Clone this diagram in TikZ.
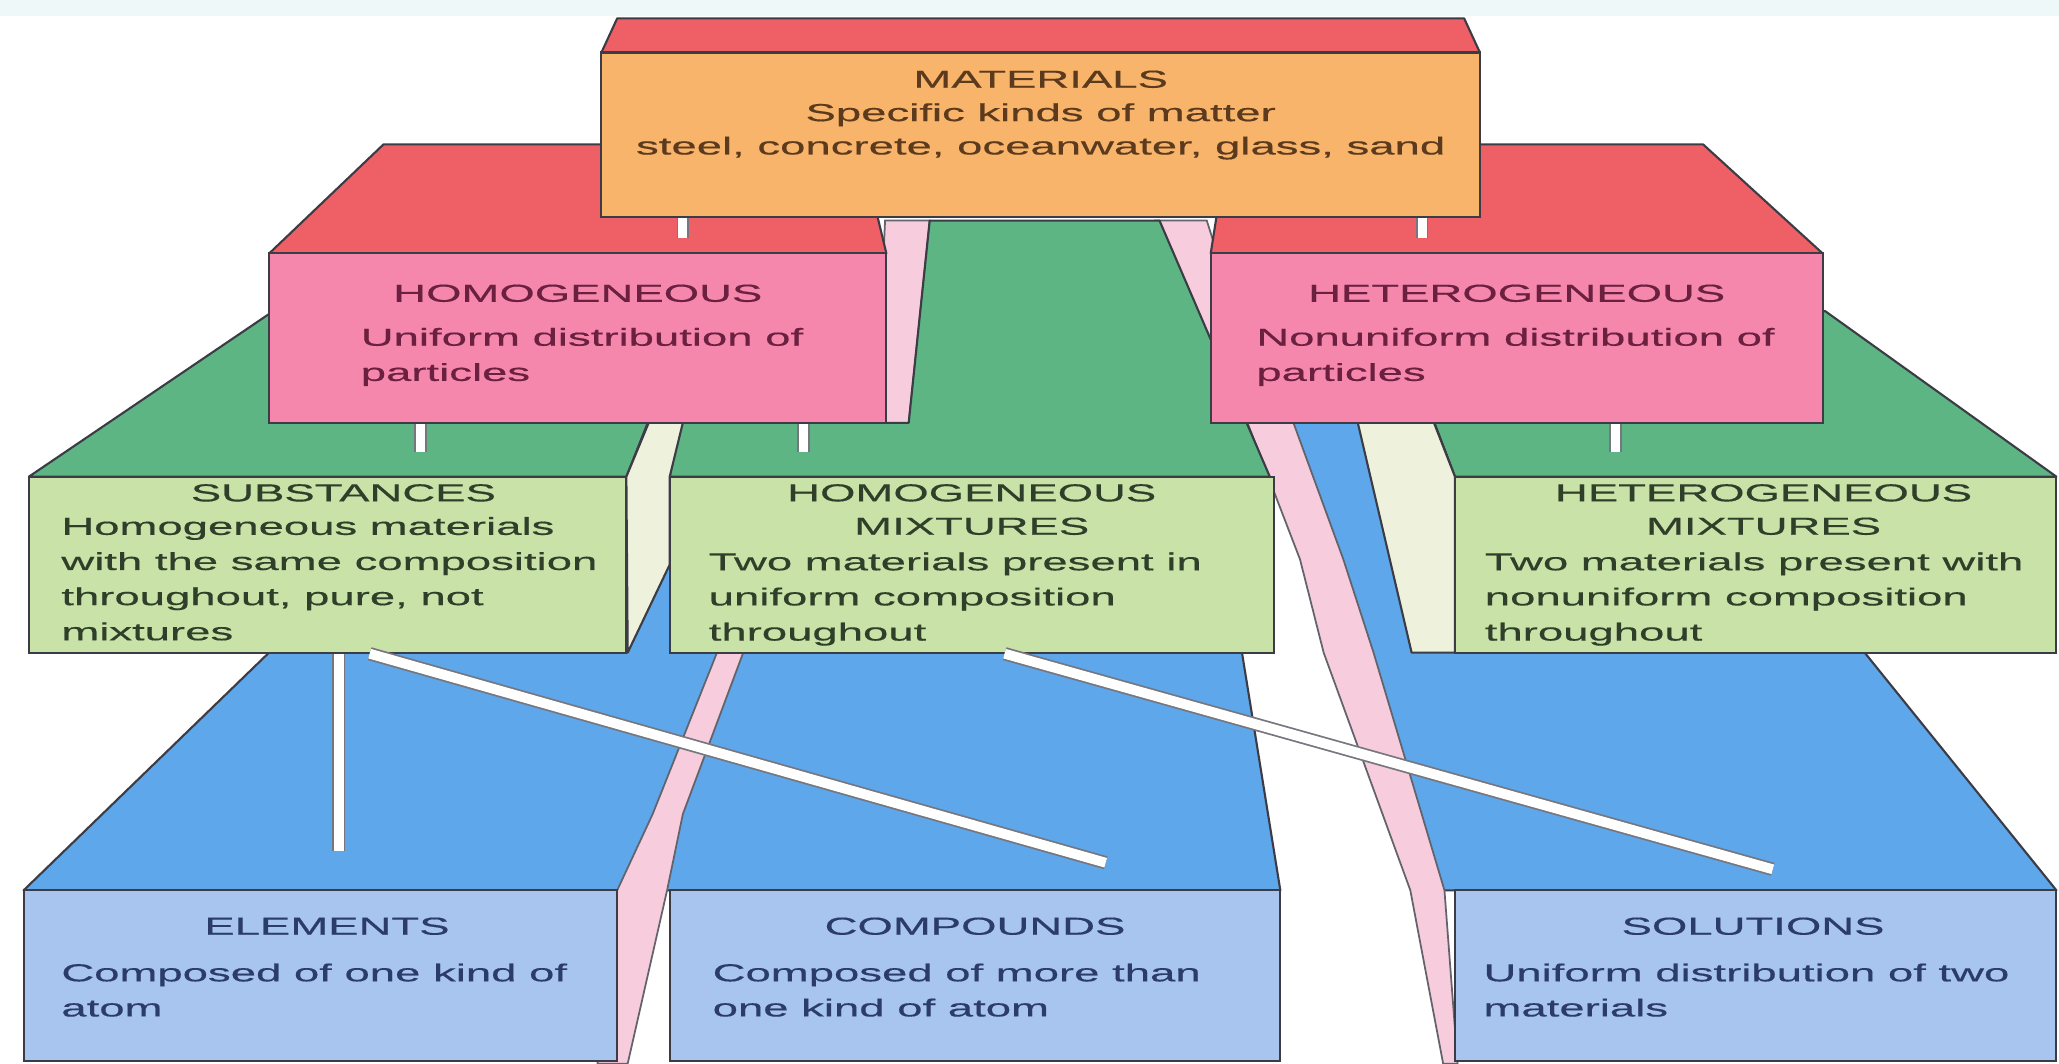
\documentclass[tikz,border=0pt]{standalone}
\usepackage{fontspec}
\setmainfont{Liberation Sans}[FakeStretch=1.85,FakeBold=0.4]
\usetikzlibrary{calc,fit}

\definecolor{bgtint}{HTML}{EEF8F8}
\definecolor{matface}{HTML}{F8B46A}
\definecolor{redtop}{HTML}{EF5F66}
\definecolor{pinkface}{HTML}{F587AC}
\definecolor{greentop}{HTML}{5DB584}
\definecolor{greenface}{HTML}{C8E2A8}
\definecolor{cream}{HTML}{EEF2DC}
\definecolor{bluetop}{HTML}{5EA7EA}
\definecolor{blueface}{HTML}{A8C5F0}
\definecolor{pinkrod}{HTML}{F7CCDC}
\definecolor{browntext}{HTML}{5B3A1E}
\definecolor{maroontext}{HTML}{6B2040}
\definecolor{greentext}{HTML}{2F3F2A}
\definecolor{bluetext}{HTML}{2B3C6B}
\definecolor{edge}{HTML}{3C3C46}

\begin{document}
\begin{tikzpicture}[x=0.013131cm,y=-0.013131cm,
  topface/.style={draw=edge,line width=0.6pt,line join=round},
  front/.style={draw=edge,line width=0.6pt,inner sep=0pt},
  rod/.style={fill=pinkrod,draw=edge!80,line width=0.5pt},
  ttl/.style={font=\fontsize{7}{9.5}\selectfont,anchor=north,align=center,inner sep=0pt},
  txt/.style={font=\fontsize{7}{10}\selectfont,anchor=north west,align=left,inner sep=0pt},
  post/.style={draw=edge!70,double=white,double distance=2.6pt,line width=0.5pt},
  bar/.style={draw=edge!70,double=white,double distance=2.8pt,line width=0.5pt}]
\useasboundingbox (0,0) rectangle (1568,810);
\fill[white] (0,0) rectangle (1568,810);
\fill[bgtint] (0,0) rectangle (1568,12);

% blue level, top faces
\filldraw[fill=bluetop,topface] (18,678) -- (274,430) -- (935,430) -- (975,678) -- cycle;
\filldraw[fill=bluetop,topface] (1087,678) -- (1027,497) -- (1005,426) -- (975,322) -- (1300,322) -- (1420,497) -- (1566,678) -- cycle;

% pink rods from the top box
\filldraw[rod] (674,168) -- (667,322) -- (546,497) -- (497,620) -- (470,678) -- (455,810) -- (478,810) -- (508,678) -- (520,620) -- (566,497) -- (692,322) -- (708,168) -- cycle;
\filldraw[rod] (880,168) -- (915,250) -- (950,322) -- (990,426) -- (1008,497) -- (1074,678) -- (1099,810) -- (1110,810) -- (1100,678) -- (1046,497) -- (1023,426) -- (985,322) -- (945,250) -- (919,168) -- cycle;

% green level, top faces
\filldraw[fill=greentop,topface] (22,363) -- (208,237) -- (527,237) -- (477,363) -- cycle;
\filldraw[fill=greentop,topface] (510,363) -- (518,322) -- (692,322) -- (708,168) -- (883,168) -- (967,363) -- cycle;
\filldraw[fill=greentop,topface] (1108,363) -- (1060,237) -- (1390,237) -- (1566,363) -- cycle;
% side faces
\filldraw[fill=cream,topface] (494,322) -- (520,322) -- (510,363) -- (510,430) -- (478,497) -- (477,363) -- cycle;
\filldraw[fill=cream,topface] (1034,322) -- (1092,322) -- (1108,363) -- (1108,497) -- (1075,497) -- cycle;

% fronts
\node[front,fill=greenface,fit={(22,363) (477,497)}] (subst) {};
\node[front,fill=greenface,fit={(510,363) (970,497)}] (homix) {};
\node[front,fill=greenface,fit={(1108,363) (1566,497)}] (hetmix) {};
\node[front,fill=blueface,fit={(18,678) (470,808)}] (elem) {};
\node[front,fill=blueface,fit={(510,678) (975,808)}] (comp) {};
\node[front,fill=blueface,fit={(1108,678) (1566,808)}] (solu) {};

% pink level
\filldraw[fill=redtop,topface] (205,193) -- (292,110) -- (655,110) -- (675,193) -- cycle;
\node[front,fill=pinkface,fit={(205,193) (675,322)}] (homog) {};
\filldraw[fill=redtop,topface] (922,193) -- (935,110) -- (1297,110) -- (1388,193) -- cycle;
\node[front,fill=pinkface,fit={(922,193) (1388,322)}] (heterog) {};

% top box
\filldraw[fill=redtop,topface] (458,40) -- (470,14) -- (1115,14) -- (1127,40) -- cycle;
\node[front,fill=matface,fit={(458,40) (1127,165)}] (mat) {};

% labels
\node[ttl,text=browntext] at ($(mat.north)+(0,14)$) {MATERIALS\\Specific kinds of matter\\steel, concrete, oceanwater, glass, sand};

\node[ttl,text=maroontext] at ($(homog.north)+(0,24)$) {HOMOGENEOUS};
\node[txt,text=maroontext] at ($(homog.north west)+(70,57)$) {Uniform distribution of\\particles};
\node[ttl,text=maroontext] at ($(heterog.north)+(0,24)$) {HETEROGENEOUS};
\node[txt,text=maroontext] at ($(heterog.north west)+(35,57)$) {Nonuniform distribution of\\particles};

\node[ttl,text=greentext] at ($(subst.north)+(12,6)$) {SUBSTANCES};
\node[txt,text=greentext] at ($(subst.north west)+(25,31)$) {Homogeneous materials\\with the same composition\\throughout, pure, not\\mixtures};
\node[ttl,text=greentext] at ($(homix.north)+(0,6)$) {HOMOGENEOUS\\MIXTURES};
\node[txt,text=greentext] at ($(homix.north west)+(30,58)$) {Two materials present in\\uniform composition\\throughout};
\node[ttl,text=greentext] at ($(hetmix.north)+(6,6)$) {HETEROGENEOUS\\MIXTURES};
\node[txt,text=greentext] at ($(hetmix.north west)+(23,58)$) {Two materials present with\\nonuniform composition\\throughout};

\node[ttl,text=bluetext] at ($(elem.north)+(5,21)$) {ELEMENTS};
\node[txt,text=bluetext] at ($(elem.north west)+(29,56)$) {Composed of one kind of\\atom};
\node[ttl,text=bluetext] at ($(comp.north)+(0,21)$) {COMPOUNDS};
\node[txt,text=bluetext] at ($(comp.north west)+(33,56)$) {Composed of more than\\one kind of atom};
\node[ttl,text=bluetext] at ($(solu.north)+(-2,21)$) {SOLUTIONS};
\node[txt,text=bluetext] at ($(solu.north west)+(22,56)$) {Uniform distribution of two\\materials};

% posts between levels
\coordinate (p-homog) at (520,181);
\coordinate (p-heterog) at (1083,181);
\coordinate (p-subst) at (320,344);
\coordinate (p-homix) at (612,344);
\coordinate (p-hetmix) at (1230,344);
\draw[post] (mat.south -| p-homog) -- (p-homog);
\draw[post] (mat.south -| p-heterog) -- (p-heterog);
\draw[post] (homog.south -| p-subst) -- (p-subst);
\draw[post] (homog.south -| p-homix) -- (p-homix);
\draw[post] (heterog.south -| p-hetmix) -- (p-hetmix);

% long bars to the bottom level
\coordinate (elem-top) at (258,648);
\coordinate (comp-top) at (842,657);
\coordinate (solu-top) at (1350,662);
\draw[bar] (subst.south -| elem-top) -- (elem-top);
\draw[bar] ($(subst.south)+(32,0)$) -- (comp-top);
\draw[bar] ($(homix.south)+(25,0)$) -- (solu-top);
\end{tikzpicture}
\end{document}
